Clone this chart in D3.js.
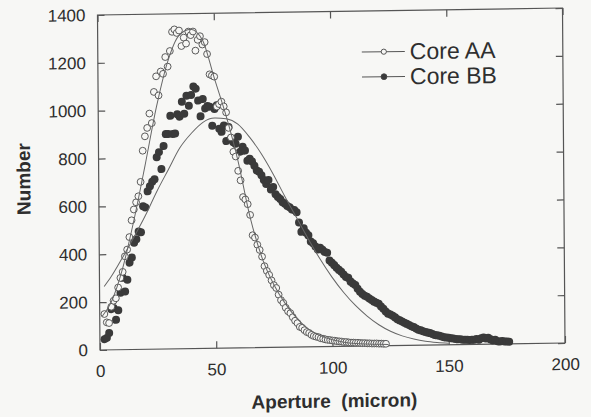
<!DOCTYPE html>
<html><head><meta charset="utf-8">
<script src="https://cdn.jsdelivr.net/npm/d3@7"></script>
<style>
html,body{margin:0;padding:0;background:#f7f7f5;}
svg{display:block;}
</style></head><body>
<svg id="chart" width="591" height="417"></svg>
<script>
// ---- data ----
const xTicks = [0, 50, 100, 150, 200];
const yTicks = [0, 200, 400, 600, 800, 1000, 1200, 1400];
const seriesNames = ["Core AA", "Core BB"];
const xTitle = "Aperture  (micron)";
const yTitle = "Number";

const aaAperture = [2,3,4,5,6,7,8,9,10,11,12,13,14,15,16,17,18,19,20,21,22,23,24,25,26,27,28,29,30,31,32,33,34,35,36,37,38,39,40,41,42,43,44,45,46,47,48,49,50,51,52,53,54,55,56,57,58,59,60,61,62,63,64,65,66,67,68,69,70,71,72,73,74,75,76,77,78,79,80,81,82,83,84,85,86,87,88,89,90,91,92,93,94,95,96,97,98,99,100,101,102,103,104,105,106,107,108,109,110,111,112,113,114,115,116,117,118,119,120,121,122,123];
const aaNumber = [150,115,112,180,205,215,260,300,325,390,418,470,540,585,615,640,700,830,890,925,985,945,1075,1140,1060,1160,1150,1220,1180,1245,1325,1335,1320,1330,1265,1300,1275,1325,1310,1325,1245,1290,1305,1270,1280,1230,1145,1140,1135,1010,1020,1030,1010,985,920,880,820,800,740,700,630,620,600,555,470,460,430,408,380,340,320,303,280,260,248,220,197,185,165,150,142,125,110,100,84,80,70,62,58,50,45,42,40,35,33,30,28,27,25,24,22,21,20,18,18,16,15,15,14,14,13,12,12,11,11,10,10,10,9,9,8,8];

const bbAperture = [2,3,4,5,6,7,8,9,10,11,12,13,14,15,16,17,18,19,20,21,22,23,24,25,26,27,28,29,30,31,32,33,34,35,36,37,38,39,40,41,42,43,44,45,46,47,48,49,50,51,52,53,54,55,56,57,58,59,60,61,62,63,64,65,66,67,68,69,70,71,72,73,74,75,76,77,78,79,80,81,82,83,84,85,86,87,88,89,90,91,92,93,94,95,96,97,98,99,100,101,102,103,104,105,106,107,108,109,110,111,112,113,114,115,116,117,118,119,120,121,122,123,124,125,126,127,128,129,130,131,132,133,134,135,136,137,138,139,140,141,142,143,144,145,146,147,148,149,150,151,152,153,154,155,156,157,158,159,160,161,162,163,164,165,166,167,168,169,170,171,172,173,174,175,176];
const bbNumber = [45,50,70,170,175,125,165,238,300,243,292,363,384,446,460,493,489,598,593,660,681,700,710,802,823,752,848,898,898,974,898,900,980,970,1032,982,1057,1015,1060,1095,1086,1036,970,1042,1003,1013,1010,930,1000,1015,917,904,930,865,924,874,860,853,882,820,840,824,782,790,778,760,740,735,720,700,683,700,660,670,640,628,620,606,600,590,585,575,573,563,520,481,496,477,466,440,433,419,406,413,405,395,392,360,350,340,329,320,312,300,290,286,270,262,256,240,227,218,210,206,198,192,185,180,176,164,155,143,134,130,125,118,110,105,100,95,90,85,80,76,70,65,62,58,55,52,50,46,42,40,38,35,32,30,29,27,26,24,22,22,20,20,20,19,19,19,22,19,25,28,24,27,20,15,18,12,10,12,10,10,9];

const aaFitAperture = [1,5,10,15,20,25,30,35,40,45,50,55,60,65,70,75,80,85,90,95,100,105,110,115,120,124];
const aaFitNumber   = [140,200,340,540,770,1010,1200,1310,1335,1290,1130,970,780,545,375,262,180,118,72,45,28,17,11,8,6,5];

const bbFitAperture = [2,5,10,15,20,25,30,35,40,45,50,55,60,65,70,75,80,85,90,95,100,105,110,115,120,125,130,135,140,145,150];
const bbFitNumber   = [265,305,385,470,560,660,750,840,900,945,962,958,935,880,810,725,630,540,450,365,290,225,170,125,88,60,40,26,16,10,6];

// ---- chart ----
const svg = d3.select("#chart");
const FONT = "'Liberation Sans', Arial, Helvetica, sans-serif";
const ink = "#2e2e2e";

const x = d3.scaleLinear().domain([0, 200]).range([100, 565]);
const y = d3.scaleLinear().domain([0, 1400]).range([350, 15]);

// slight skew like the scanned page
const g = svg.append("g").attr("transform", "matrix(1,-0.01505,0.0075,1,-2.625,1.505)");

// frame
g.append("rect")
  .attr("x", x(0)).attr("y", y(1400))
  .attr("width", x(200) - x(0)).attr("height", y(0) - y(1400))
  .attr("fill", "none").attr("stroke", "#555").attr("stroke-width", 1.2);

function styleAxis(sel, labels) {
  sel.select(".domain").remove();
  sel.selectAll(".tick line").attr("stroke", "#555").attr("stroke-width", 1.2);
  sel.selectAll(".tick text").attr("fill", ink).style("font-family", FONT).style("font-size", "17px");
  if (!labels) sel.selectAll(".tick text").remove();
}

g.append("g").attr("transform", `translate(0,${y(0)})`)
  .call(d3.axisBottom(x).tickValues(xTicks).tickSize(-7).tickPadding(15).tickFormat(d3.format("d")))
  .call(s => styleAxis(s, true));
g.append("g").attr("transform", `translate(0,${y(1400)})`)
  .call(d3.axisTop(x).tickValues(xTicks).tickSize(-7))
  .call(s => styleAxis(s, false));
g.append("g").attr("transform", `translate(${x(0)},0)`)
  .call(d3.axisLeft(y).tickValues(yTicks).tickSize(-7).tickPadding(12).tickFormat(d3.format("d")))
  .call(s => styleAxis(s, true));
g.append("g").attr("transform", `translate(${x(200)},0)`)
  .call(d3.axisRight(y).tickValues(yTicks).tickSize(-7))
  .call(s => styleAxis(s, false));

// axis titles
g.append("text").attr("x", 334).attr("y", 411).attr("text-anchor", "middle")
  .style("font-family", FONT).style("font-size", "19px").style("font-weight", "bold")
  .attr("fill", ink).style("white-space", "pre").text(xTitle);
g.append("text").attr("transform", "translate(25,178) rotate(-90)")
  .attr("text-anchor", "middle").attr("dominant-baseline", "central")
  .style("font-family", FONT).style("font-size", "19px").style("font-weight", "bold")
  .attr("fill", ink).text(yTitle);

// data
const aa = aaAperture.map((a, i) => [a, aaNumber[i]]);
const bb = bbAperture.map((a, i) => [a, bbNumber[i]]);
const aaFit = aaFitAperture.map((a, i) => [a, aaFitNumber[i]]);
const bbFit = bbFitAperture.map((a, i) => [a, bbFitNumber[i]]);

g.append("g").selectAll("circle").data(bb).join("circle")
  .attr("cx", d => x(d[0])).attr("cy", d => y(d[1])).attr("r", 4)
  .attr("fill", "#3a3a3a");

g.append("g").selectAll("circle").data(aa).join("circle")
  .attr("cx", d => x(d[0])).attr("cy", d => y(d[1])).attr("r", 3.4)
  .attr("fill", "#f7f7f5").attr("stroke", "#4a4a4a").attr("stroke-width", 0.9);

const line = d3.line().x(d => x(d[0])).y(d => y(d[1])).curve(d3.curveMonotoneX);
g.append("path").datum(aaFit).attr("d", line).attr("fill", "none").attr("stroke", "#666").attr("stroke-width", 1);
g.append("path").datum(bbFit).attr("d", line).attr("fill", "none").attr("stroke", "#666").attr("stroke-width", 1);

// legend
const legendY = [56, 81];
const leg = g.append("g");
seriesNames.forEach((name, i) => {
  leg.append("line").attr("x1", 364).attr("x2", 407).attr("y1", legendY[i]).attr("y2", legendY[i])
    .attr("stroke", "#555").attr("stroke-width", 1);
  leg.append("circle").attr("cx", 386).attr("cy", legendY[i]).attr("r", i === 0 ? 2.6 : 2.9)
    .attr("fill", i === 0 ? "#f7f7f5" : "#3a3a3a").attr("stroke", "#444").attr("stroke-width", 0.9);
  leg.append("text").attr("x", 412).attr("y", legendY[i] + 8)
    .style("font-family", FONT).style("font-size", "23px").attr("fill", ink).text(name);
});
</script>
</body></html>
